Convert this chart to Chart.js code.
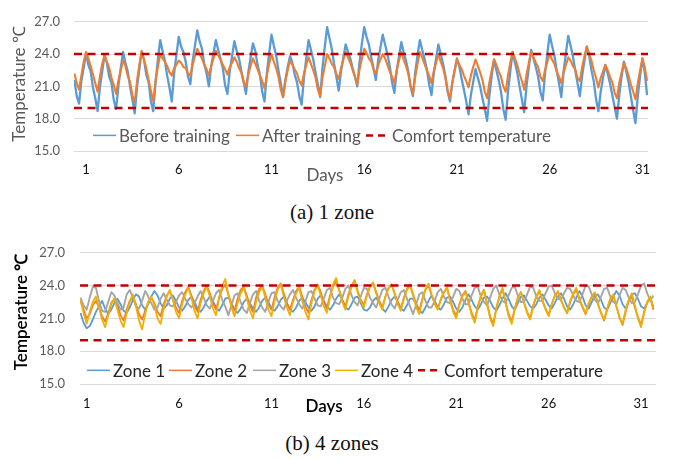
<!DOCTYPE html>
<html>
<head>
<meta charset="utf-8">
<script src="https://cdn.jsdelivr.net/npm/chart.js@4.4.1/dist/chart.umd.min.js"></script>
<style>
  body{margin:0;background:#fff;width:673px;height:460px;position:relative;overflow:hidden}
  .wrap{position:absolute;left:0;width:673px;height:190px}
  .cap{position:absolute;left:0;width:664px;text-align:center;font-family:"Liberation Serif",serif;font-size:21px;color:#111}
</style>
</head>
<body>
<div class="wrap" style="top:0"><canvas id="chartA" width="673" height="190"></canvas></div>
<div class="cap" style="top:200px">(a) 1 zone</div>
<div class="wrap" style="top:230px"><canvas id="chartB" width="673" height="190"></canvas></div>
<div class="cap" style="top:431px">(b) 4 zones</div>
<script>
// axis labels
const dayTicks = [1, 6, 11, 16, 21, 26, 31];
const tempTicks = [15, 18, 21, 24, 27];
const comfortHigh = 24;
const comfortLow = 19;

// (a) 1 zone, 8 readings per day (3 h apart)
const beforeTraining = [
  21.6,20.1,19.4,21.5,22.7,24.1,23.0,22.4,
  20.9,19.9,18.7,20.9,22.4,23.9,23.2,21.9,
  21.3,19.7,18.9,21.1,22.7,24.2,23.2,22.4,
  21.0,19.8,18.5,20.9,22.6,24.2,23.5,22.1,
  21.4,19.6,18.7,21.4,23.5,25.3,24.3,23.4,
  22.0,20.9,19.6,22.2,23.9,25.6,24.7,24.2,
  23.3,21.9,21.2,23.4,24.8,26.2,25.2,24.5,
  23.1,22.2,21.0,22.9,24.1,25.3,24.4,23.6,
  22.7,21.1,20.3,22.4,23.8,25.2,24.3,23.6,
  22.4,21.4,20.3,22.3,23.7,25.0,24.3,23.0,
  22.1,20.5,19.6,22.2,24.1,25.8,24.8,23.9,
  22.5,21.3,20.0,21.6,22.8,23.8,23.2,22.1,
  21.4,20.1,19.3,21.8,23.6,25.3,24.4,23.5,
  22.3,21.2,20.0,22.7,24.7,26.5,25.5,24.5,
  23.1,21.9,20.6,22.4,23.7,24.9,24.2,23.6,
  22.7,21.9,21.0,23.3,25.0,26.5,25.6,24.9,
  23.7,22.7,21.6,23.4,24.6,25.8,24.9,24.0,
  22.9,21.4,20.4,22.4,23.8,25.1,24.2,23.4,
  22.4,21.0,20.1,22.3,23.9,25.3,24.4,23.6,
  22.6,21.2,20.2,22.2,23.6,24.9,24.0,23.1,
  22.0,20.5,19.6,21.3,22.5,23.6,22.9,21.7,
  20.7,19.6,18.4,20.2,21.4,22.6,21.8,21.0,
  19.9,18.9,17.8,20.2,22.0,23.5,22.5,21.6,
  20.5,18.9,17.9,20.5,22.4,24.2,23.2,22.3,
  21.0,19.8,18.6,21.0,22.8,24.4,23.6,22.8,
  21.9,20.5,19.7,22.2,24.1,25.8,24.8,23.9,
  22.5,21.3,20.0,22.4,24.1,25.7,24.8,23.8,
  22.5,21.3,20.1,22.0,23.4,24.7,23.9,22.5,
  21.5,19.8,18.7,20.5,21.8,23.0,22.2,21.3,
  20.2,19.1,18.0,20.2,21.9,23.3,22.4,21.4,
  20.1,18.8,17.6,20.1,22.0,23.6,22.3,20.2
];
const afterTraining = [
  22.2,21.3,20.7,22.0,23.3,24.2,23.6,22.9,
  22.1,21.3,20.5,21.9,23.1,23.9,23.3,22.7,
  21.8,21.1,20.3,21.6,22.5,23.4,22.9,22.0,
  21.4,20.2,19.5,21.5,23.0,24.3,23.5,22.7,
  21.6,20.6,19.6,21.5,22.8,24.0,23.6,23.3,
  22.9,22.3,22.0,22.7,23.0,23.4,23.2,22.8,
  22.7,22.2,22.0,23.0,23.8,24.5,24.0,23.6,
  23.0,22.6,22.0,22.9,23.6,24.3,23.9,23.5,
  23.0,22.6,22.1,22.8,23.2,23.7,23.3,22.7,
  22.3,21.4,21.0,22.1,22.9,23.6,23.1,22.6,
  22.0,21.5,20.8,22.0,23.1,24.0,23.3,22.7,
  21.9,20.7,20.0,21.5,22.5,23.4,23.0,22.6,
  22.2,21.5,21.1,22.2,23.0,23.7,23.1,22.5,
  21.8,20.7,20.1,21.8,22.9,24.0,23.6,23.1,
  22.8,22.1,21.7,22.7,23.5,24.2,23.7,23.2,
  22.5,21.9,21.2,22.6,23.6,24.5,24.1,23.6,
  23.3,22.6,22.2,22.9,23.5,24.0,23.6,23.0,
  22.4,21.9,21.3,22.5,23.4,24.2,23.5,22.9,
  22.2,21.0,20.3,21.9,23.1,24.2,23.7,23.1,
  22.5,22.0,21.3,22.4,23.2,24.0,23.3,22.7,
  21.8,20.6,19.9,21.4,22.5,23.5,23.0,22.6,
  22.0,21.5,20.9,22.0,22.8,23.5,22.9,22.3,
  21.6,20.5,19.9,21.4,22.5,23.5,23.0,22.4,
  21.9,21.0,20.5,22.0,23.2,24.2,23.6,23.0,
  22.2,21.5,20.7,22.1,23.2,24.2,23.7,23.2,
  22.8,21.9,21.5,22.5,23.3,24.0,23.5,23.1,
  22.4,21.9,21.3,22.3,23.0,23.7,23.4,22.9,
  22.6,21.8,21.5,22.8,23.8,24.7,24.0,23.4,
  22.5,21.8,20.9,21.8,22.4,23.0,22.5,21.9,
  21.4,20.4,19.9,21.3,22.3,23.2,22.7,22.0,
  21.2,20.5,19.8,21.3,22.5,23.6,22.8,21.5
];

// (b) 4 zones, 6 readings per day (4 h apart)
const zone1 = [
  21.5,20.6,20.1,20.3,20.9,21.6, 22.1,22.6,21.9,21.4,21.8,22.4,
  22.8,22.3,21.7,21.5,22.0,22.7, 23.2,23.0,22.2,21.8,22.3,23.0,
  23.5,23.1,22.4,21.9,22.2,22.8, 23.1,22.6,22.0,21.7,22.1,22.7,
  23.0,22.5,21.9,21.6,22.0,22.6, 23.0,22.6,22.0,21.7,22.2,22.8,
  22.9,22.4,21.8,21.5,21.9,22.5, 22.8,22.4,21.9,21.6,22.0,22.6,
  22.9,22.5,21.9,21.7,22.1,22.7, 23.0,22.4,21.8,21.6,22.0,22.6,
  22.9,22.5,22.0,21.7,22.1,22.8, 23.1,22.6,22.1,21.8,22.2,22.8,
  23.2,22.7,22.0,21.8,22.3,22.9, 23.0,22.4,21.8,21.7,22.0,22.6,
  22.9,22.4,21.9,21.6,22.1,22.7, 23.0,22.5,21.9,21.7,22.2,22.8,
  22.8,22.3,21.7,21.5,22.0,22.6, 23.1,22.6,22.0,21.8,22.3,22.9,
  23.0,22.5,21.9,21.6,22.0,22.7, 23.2,22.7,22.1,21.8,22.3,22.9,
  23.0,22.6,22.0,21.7,22.2,22.8, 23.3,22.8,22.1,21.8,22.4,23.0,
  23.1,22.6,22.1,21.9,22.3,22.9, 23.2,22.7,22.2,21.9,22.4,23.0,
  23.3,22.8,22.1,21.8,22.3,22.9, 23.5,23.0,22.2,21.9,22.5,23.1,
  23.2,22.7,22.0,21.8,22.4,23.0, 23.5,23.1,22.3,21.9,22.6,23.2,
  23.3,22.8,22.1,21.9,22.4,22.9, 22.0
];
const zone2 = [
  22.6,21.8,21.0,21.4,22.2,22.6, 22.0,21.2,20.7,21.5,22.4,22.8,
  22.2,21.3,20.8,21.8,22.6,23.0, 22.3,21.4,20.9,21.7,22.5,22.9,
  22.4,21.6,21.2,22.3,23.1,23.5, 22.8,22.0,21.5,22.6,23.4,23.9,
  23.1,22.2,21.6,22.7,23.5,24.0, 23.3,22.4,21.8,22.9,23.7,24.1,
  23.2,22.3,21.7,22.8,23.6,23.9, 23.1,22.2,21.6,22.9,23.7,24.0,
  23.2,22.3,21.8,22.9,23.8,24.2, 23.3,22.4,21.8,22.7,23.5,23.9,
  23.0,22.1,21.5,22.7,23.6,24.1, 23.4,22.5,21.9,23.1,23.9,24.4,
  23.6,22.7,22.1,23.2,24.0,24.5, 23.5,22.7,22.2,23.2,23.9,24.2,
  23.4,22.6,22.0,23.0,23.8,24.1, 23.3,22.5,21.9,22.9,23.7,24.1,
  23.2,22.3,21.7,22.8,23.6,24.0, 23.1,22.4,21.9,22.7,23.4,23.8,
  22.7,21.8,21.2,22.3,23.1,23.5, 22.5,21.5,20.8,22.1,23.0,23.6,
  22.4,21.2,20.5,21.9,23.0,23.7, 22.5,21.4,20.7,21.9,22.9,23.4,
  22.5,21.6,21.0,22.2,23.0,23.5, 22.6,21.9,21.3,22.3,23.1,23.4,
  22.7,22.0,21.5,22.5,23.2,23.6, 22.7,22.0,21.4,22.3,23.0,23.3,
  22.3,21.5,20.8,21.8,22.7,23.1, 22.1,21.1,20.4,21.6,22.6,23.0,
  22.0,21.1,20.4,21.6,22.5,22.9, 21.8
];
const zone3 = [
  22.9,22.2,21.8,22.9,23.9,23.8, 22.6,21.7,21.6,22.5,23.4,23.1,
  22.4,21.8,22.0,23.2,23.6,22.9, 22.1,21.9,22.6,23.5,23.0,22.4,
  21.8,22.0,22.8,23.3,22.7,22.2, 22.1,22.5,23.1,23.4,22.8,22.3,
  22.0,22.4,23.0,23.5,22.9,22.2, 21.9,22.6,23.3,23.6,22.7,22.1,
  21.3,22.2,23.1,23.3,22.5,21.8, 21.5,22.4,23.2,23.5,22.6,22.0,
  21.6,22.5,23.3,23.4,22.6,22.1, 21.8,22.6,23.2,23.6,22.9,22.3,
  21.9,22.5,23.4,23.5,22.8,22.2, 22.1,22.8,23.6,23.8,22.9,22.4,
  22.3,22.9,23.7,24.0,23.1,22.5, 22.2,23.0,23.8,23.7,22.9,22.4,
  22.0,22.8,23.6,23.8,23.0,22.3, 21.9,22.7,23.4,23.6,22.8,22.1,
  21.4,22.3,23.2,23.4,22.6,22.0, 22.0,22.6,23.4,23.7,23.0,22.5,
  22.4,23.0,23.7,23.5,22.8,22.3, 22.3,23.1,23.8,23.9,23.0,22.5,
  22.2,22.9,23.7,24.0,23.2,22.6, 22.4,23.1,23.8,23.9,23.1,22.5,
  22.5,23.2,23.9,23.8,23.0,22.6, 22.6,23.3,23.9,24.0,23.3,22.8,
  22.7,23.3,23.8,23.7,23.1,22.6, 22.5,23.2,24.0,23.9,23.2,22.7,
  22.4,23.0,23.7,23.8,23.0,22.5, 22.3,23.1,23.8,23.6,22.9,22.4,
  22.5,23.2,24.0,24.2,23.3,22.6, 23.1
];
const zone4 = [
  22.7,21.5,20.5,21.6,22.5,23.0, 22.0,20.9,20.2,21.3,22.3,22.8,
  21.8,20.8,20.2,21.5,22.6,23.2, 22.1,20.8,20.0,21.4,22.5,23.0,
  22.2,21.0,20.5,21.9,23.0,23.6, 22.7,21.6,21.0,22.3,23.2,23.8,
  22.9,21.7,21.0,22.4,23.3,23.9, 23.0,21.9,21.3,22.8,24.0,24.6,
  23.2,22.0,21.2,22.4,23.3,23.8, 22.8,21.7,21.0,22.5,23.4,23.9,
  22.9,21.8,21.2,22.6,23.6,24.1, 23.0,22.0,21.3,22.5,23.3,23.8,
  22.6,21.6,20.9,22.4,23.5,24.0, 23.1,22.1,21.5,22.9,24.1,24.7,
  23.6,22.5,21.8,23.0,23.9,24.4, 23.4,22.6,22.0,23.1,23.9,24.3,
  23.3,22.4,21.8,23.0,23.7,24.1, 23.2,22.3,21.7,22.8,23.6,24.0,
  23.1,22.0,21.4,22.7,23.7,24.2, 23.2,22.3,21.8,22.8,23.4,23.8,
  22.6,21.6,21.0,22.2,23.0,23.4, 22.4,21.3,20.6,22.0,23.1,23.6,
  22.3,21.0,20.3,21.9,23.0,23.8, 22.5,21.2,20.5,21.8,22.9,23.4,
  22.4,21.5,20.9,22.1,23.0,23.6, 22.6,21.8,21.2,22.3,23.0,23.5,
  22.7,22.0,21.5,22.6,23.3,23.8, 22.8,22.1,21.5,22.4,23.0,23.4,
  22.4,21.5,20.9,21.9,22.8,23.2, 22.1,21.1,20.5,21.8,22.7,23.3,
  22.2,21.0,20.2,21.5,22.5,23.0, 22.0
];

// time position (in days) of each reading
const timesA = beforeTraining.map((_, i) => 0.375 + i / 8);
const timesB = zone1.map((_, i) => 0.667 + i / 6);
const pts = (times, vals) => vals.map((v, i) => ({ x: times[i], y: v }));

const FONT = 'Lato, "Liberation Sans", sans-serif';

const overlay = {
  id: 'overlay',
  afterDraw(chart, args, o) {
    const ctx = chart.ctx;
    const ly = chart.scales.y.getPixelForValue(o.legendAt);
    ctx.save();
    ctx.font = '17px ' + FONT;
    ctx.textBaseline = 'middle';
    o.items.forEach(it => {
      ctx.strokeStyle = it.color;
      ctx.lineWidth = it.dash ? 2.5 : 1.5;
      ctx.setLineDash(it.dash || []);
      ctx.beginPath();
      ctx.moveTo(it.x, ly);
      ctx.lineTo(it.x + 23, ly);
      ctx.stroke();
      ctx.setLineDash([]);
      ctx.fillStyle = o.legendColor;
      ctx.fillText(it.label, it.x + 26, ly + 1);
    });
    ctx.fillStyle = o.titleColor;
    ctx.textAlign = 'center';
    ctx.font = (o.titleWeight || '') + ' 17px ' + FONT;
    ctx.fillText('Days', o.daysX, o.daysY);
    ctx.translate(o.tempX, o.tempY);
    ctx.rotate(-Math.PI / 2);
    ctx.fillText('Temperature ℃', 0, 0);
    ctx.restore();
  }
};

function makeOptions(c) {
  return {
    responsive: false,
    animation: false,
    layout: { padding: { left: 0, right: c.padRight, top: c.padTop, bottom: 0 } },
    elements: { point: { radius: 0 }, line: { tension: 0, borderJoinStyle: 'round' } },
    plugins: {
      legend: { display: false },
      tooltip: { enabled: false },
      overlay: c.overlay
    },
    scales: {
      x: {
        type: 'linear', min: c.xMin, max: c.xMax,
        grid: { display: false }, border: { display: false },
        afterBuildTicks: s => { s.ticks = dayTicks.map(v => ({ value: v })); },
        afterFit: s => { s.height = c.xHeight; },
        ticks: { color: '#111', font: { family: FONT, size: 13 }, padding: c.xPad, maxRotation: 0, autoSkip: false }
      },
      y: {
        min: 15, max: 27,
        grid: { color: '#d9d9d9', drawTicks: false, lineWidth: 1 }, border: { display: false },
        afterBuildTicks: s => { s.ticks = tempTicks.map(v => ({ value: v })); },
        afterFit: s => { s.width = c.yWidth; },
        ticks: { color: '#595959', font: { family: FONT, size: 13 }, padding: c.yPad, callback: v => Number(v).toFixed(1) }
      }
    }
  };
}

const comfort = (xMin, xMax) => [comfortHigh, comfortLow].map(v => ({
  data: [{ x: xMin, y: v }, { x: xMax, y: v }],
  borderColor: '#c00000', borderWidth: 2.5, borderDash: [8, 5.5], order: 0
}));

const A = { xMin: 0.353, xMax: 31.3 };
new Chart(document.getElementById('chartA'), {
  type: 'line',
  data: {
    datasets: [
      ...comfort(A.xMin, A.xMax),
      { data: pts(timesA, afterTraining), borderColor: '#ed7d31', borderWidth: 2.1, order: 1 },
      { data: pts(timesA, beforeTraining), borderColor: '#5b9bd5', borderWidth: 2.3, order: 2 }
    ]
  },
  options: makeOptions({
    xMin: A.xMin, xMax: A.xMax, padRight: 25, padTop: 7.5, xHeight: 39, yWidth: 74, xPad: 3, yPad: 14,
    overlay: {
      legendAt: 16.45, legendColor: '#595959', titleColor: '#595959',
      daysX: 325, daysY: 176, tempX: 20, tempY: 84,
      items: [
        { x: 93, label: 'Before training', color: '#5b9bd5' },
        { x: 236, label: 'After training', color: '#ed7d31' },
        { x: 366, label: 'Comfort temperature', color: '#c00000', dash: [7, 5] }
      ]
    }
  }),
  plugins: [overlay]
});

const B = { xMin: 0.64, xMax: 31.81 };
new Chart(document.getElementById('chartB'), {
  type: 'line',
  data: {
    datasets: [
      ...comfort(B.xMin, B.xMax),
      { data: pts(timesB, zone4), borderColor: '#f0b000', borderWidth: 1.8, order: 1 },
      { data: pts(timesB, zone3), borderColor: '#a5a5a5', borderWidth: 1.9, order: 2 },
      { data: pts(timesB, zone2), borderColor: '#ed7d31', borderWidth: 1.8, order: 3 },
      { data: pts(timesB, zone1), borderColor: '#5b9bd5', borderWidth: 1.8, order: 4 }
    ]
  },
  options: makeOptions({
    xMin: B.xMin, xMax: B.xMax, padRight: 17, padTop: 10, xHeight: 36, yWidth: 80, xPad: 4, yPad: 15,
    overlay: {
      legendAt: 16.25, legendColor: '#262626', titleColor: '#000', titleWeight: '600',
      daysX: 324, daysY: 177, tempX: 22, tempY: 82,
      items: [
        { x: 87, label: 'Zone 1', color: '#5b9bd5' },
        { x: 169, label: 'Zone 2', color: '#ed7d31' },
        { x: 253, label: 'Zone 3', color: '#a5a5a5' },
        { x: 335, label: 'Zone 4', color: '#f0b000' },
        { x: 418, label: 'Comfort temperature', color: '#c00000', dash: [7, 5] }
      ]
    }
  }),
  plugins: [overlay]
});
</script>
</body>
</html>
